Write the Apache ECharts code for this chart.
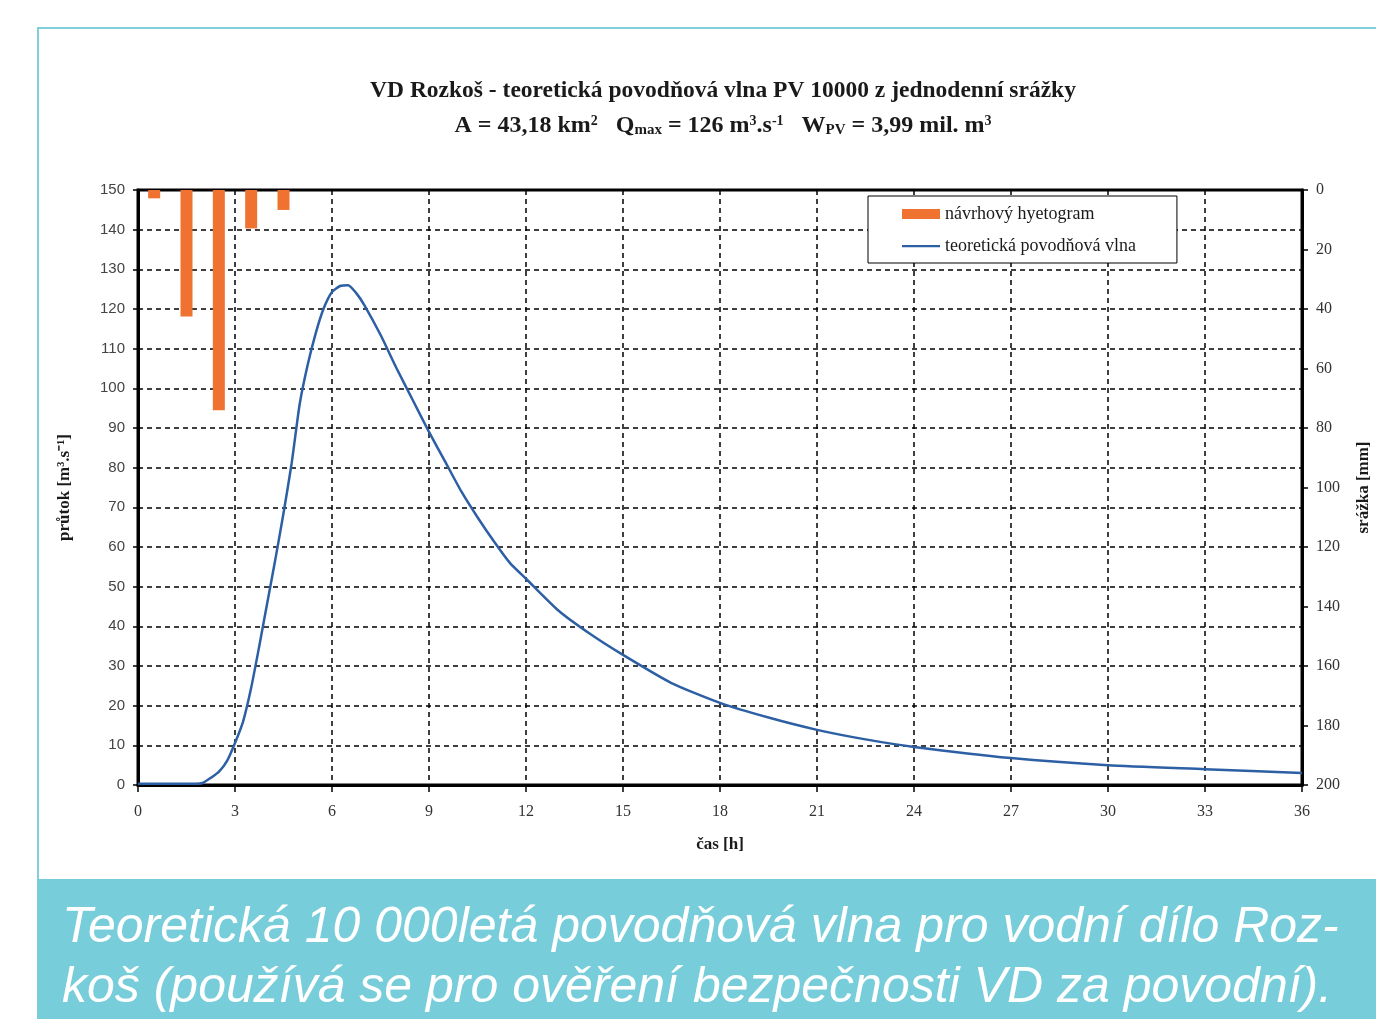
<!DOCTYPE html>
<html>
<head>
<meta charset="utf-8">
<script src="https://cdn.jsdelivr.net/npm/echarts@6/dist/echarts.min.js"></script>
<style>
    html, body { margin: 0; padding: 0; background: #fff; }
    #chart { width: 1376px; height: 1019px; }
</style>
</head>
<body>
<div id="chart"></div>
<script>
// srážka po hodinách (mm), středy hodinových intervalů
const rainHours = [0.5, 1.5, 2.5, 3.5, 4.5];
const rainMm = [2.8, 42.5, 74, 12.9, 6.7];

// teoretická povodňová vlna - čas (h) a průtok (m3/s)
const waveHours = [0, 1, 1.8, 2.0, 2.25, 2.5, 2.75, 3.0, 3.25, 3.5, 3.75, 4.0, 4.25, 4.5, 4.75, 5.0, 5.25, 5.5, 5.75, 6.0, 6.25, 6.5, 6.75, 7.0, 7.5, 8.0, 8.5, 9.0, 9.5, 10.0, 10.5, 11.0, 11.5, 12.0, 13.0, 14.0, 15.0, 16.5, 18.0, 19.5, 21.0, 22.5, 24.0, 27.0, 30.0, 33.0, 36.0];
const waveFlow = [0.3, 0.3, 0.3, 0.5, 1.8, 3.3, 6.0, 10.6, 16.0, 24.5, 35.0, 46.0, 57.0, 68.5, 81.0, 96.0, 106.0, 114.0, 120.3, 124.3, 125.8, 126.0, 124.0, 121.0, 113.5, 105.0, 97.0, 89.0, 81.5, 74.0, 67.5, 61.5, 56.0, 52.0, 44.0, 38.0, 32.8, 25.7, 20.7, 17.0, 13.9, 11.5, 9.6, 6.8, 5.0, 4.0, 3.0];

const xTicks = { min: 0, max: 36, interval: 3 };
const flowTicks = { min: 0, max: 150, interval: 10 };
const rainTicks = { min: 0, max: 200, interval: 20 };

const captionLines = [
    'Teoretická 10 000letá povodňová vlna pro vodní dílo Roz-',
    'koš (používá se pro ověření bezpečnosti VD za povodní).',
];

const serif = '"Liberation Serif", "Times New Roman", serif';
const sans = '"Liberation Sans", Arial, sans-serif';

const chart = echarts.init(document.getElementById('chart'));

const wavePoints = waveHours.map((h, i) => [h, waveFlow[i]]);
const rainPoints = rainHours.map((h, i) => [h, rainMm[i]]);

const option = {
    backgroundColor: '#ffffff',
    animation: false,
    title: [
        {
            text: 'VD Rozkoš - teoretická povodňová vlna PV 10000 z jednodenní srážky',
            left: 718,
            top: 74,
            textAlign: 'center',
            textStyle: { fontFamily: serif, fontWeight: 'bold', fontSize: 23.5, color: '#1a1a1a' },
        },
        {
            text: 'A = 43,18 km{sup|2}   Q{sub|max} = 126 m{sup|3}.s{sup|-1}   W{sub|PV} = 3,99 mil. m{sup|3}',
            left: 718,
            top: 109,
            textAlign: 'center',
            textStyle: {
                fontFamily: serif,
                fontWeight: 'bold',
                fontSize: 24,
                color: '#1a1a1a',
                rich: {
                    sup: { fontFamily: serif, fontWeight: 'bold', fontSize: 14, color: '#1a1a1a', verticalAlign: 'top', padding: [0, 0, 10, 0] },
                    sub: { fontFamily: serif, fontWeight: 'bold', fontSize: 15, color: '#1a1a1a', verticalAlign: 'bottom', padding: [8, 0, 0, 0] },
                },
            },
        },
    ],
    legend: {
        orient: 'vertical',
        left: 868,
        top: 196,
        padding: [9, 41, 8, 34],
        itemGap: 14,
        itemWidth: 38,
        itemHeight: 10,
        borderColor: '#000',
        borderWidth: 1,
        backgroundColor: '#fff',
        textStyle: { fontFamily: serif, fontSize: 18, color: '#1a1a1a' },
        data: [
            { name: 'návrhový hyetogram', icon: 'rect' },
            { name: 'teoretická povodňová vlna', icon: 'path://M0,0 M38,10 M0,4 L38,4 L38,6.2 L0,6.2 Z' },
        ],
    },
    grid: {
        left: 138,
        right: 74,
        top: 190,
        bottom: 234,
        outerBoundsMode: 'none',
        show: true,
        borderColor: '#000',
        borderWidth: 3,
        backgroundColor: 'transparent',
    },
    xAxis: {
        type: 'value',
        min: xTicks.min,
        max: xTicks.max,
        interval: xTicks.interval,
        name: 'čas [h]',
        nameLocation: 'middle',
        nameGap: 51,
        nameTextStyle: { fontFamily: serif, fontWeight: 'bold', fontSize: 17, color: '#1a1a1a' },
        axisLine: { lineStyle: { color: '#000', width: 3 } },
        axisTick: { length: 7, lineStyle: { color: '#000', width: 1.5 } },
        axisLabel: { fontFamily: serif, fontSize: 16, color: '#333', margin: 19 },
        splitLine: { show: true, lineStyle: { color: '#000', width: 1.5, type: [5, 4] } },
    },
    yAxis: [
        {
            type: 'value',
            min: flowTicks.min,
            max: flowTicks.max,
            interval: flowTicks.interval,
            name: 'průtok [m³.s⁻¹]',
            nameLocation: 'middle',
            nameRotate: 90,
            nameGap: 65,
            nameTextStyle: { fontFamily: serif, fontWeight: 'bold', fontSize: 17, color: '#1a1a1a' },
            axisLine: { show: true, lineStyle: { color: '#000', width: 3 } },
            axisTick: { show: true, length: 5, lineStyle: { color: '#000', width: 1.5 } },
            axisLabel: { fontFamily: sans, fontSize: 15, color: '#444', margin: 13 },
            splitLine: { show: true, lineStyle: { color: '#000', width: 1.5, type: [5, 4] } },
        },
        {
            type: 'value',
            position: 'right',
            inverse: true,
            min: rainTicks.min,
            max: rainTicks.max,
            interval: rainTicks.interval,
            name: 'srážka [mm]',
            nameLocation: 'middle',
            nameRotate: 90,
            nameGap: 53,
            nameTextStyle: { fontFamily: serif, fontWeight: 'bold', fontSize: 17, color: '#1a1a1a' },
            axisLine: { show: true, lineStyle: { color: '#000', width: 3 } },
            axisTick: { show: true, length: 6, lineStyle: { color: '#000', width: 1.5 } },
            axisLabel: { fontFamily: serif, fontSize: 16, color: '#333', margin: 14 },
            splitLine: { show: false },
        },
    ],
    series: [
        {
            name: 'návrhový hyetogram',
            type: 'bar',
            xAxisIndex: 0,
            yAxisIndex: 1,
            barWidth: 12,
            itemStyle: { color: '#F07230' },
            data: rainPoints,
            z: 3,
        },
        {
            name: 'teoretická povodňová vlna',
            type: 'line',
            xAxisIndex: 0,
            yAxisIndex: 0,
            smooth: 0.2,
            symbol: 'none',
            lineStyle: { color: '#2D5FA4', width: 2.5 },
            itemStyle: { color: '#2D5FA4' },
            data: wavePoints,
            z: 4,
        },
    ],
    graphic: [
        {
            type: 'rect',
            shape: { x: 38, y: 28, width: 1345, height: 860 },
            style: { fill: 'none', stroke: '#7FD0DC', lineWidth: 2 },
            silent: true,
        },
        {
            type: 'rect',
            shape: { x: 37, y: 879, width: 1339, height: 140 },
            style: { fill: '#77CDD9' },
            silent: true,
        },
        {
            type: 'text',
            left: 62,
            top: 903,
            style: {
                text: captionLines[0],
                fill: '#ffffff',
                font: 'italic 50px "Liberation Sans", Arial, sans-serif',
            },
            silent: true,
        },
        {
            type: 'text',
            left: 62,
            top: 963,
            style: {
                text: captionLines[1],
                fill: '#ffffff',
                font: 'italic 50px "Liberation Sans", Arial, sans-serif',
            },
            silent: true,
        },
    ],
};

chart.setOption(option);
</script>
</body>
</html>
